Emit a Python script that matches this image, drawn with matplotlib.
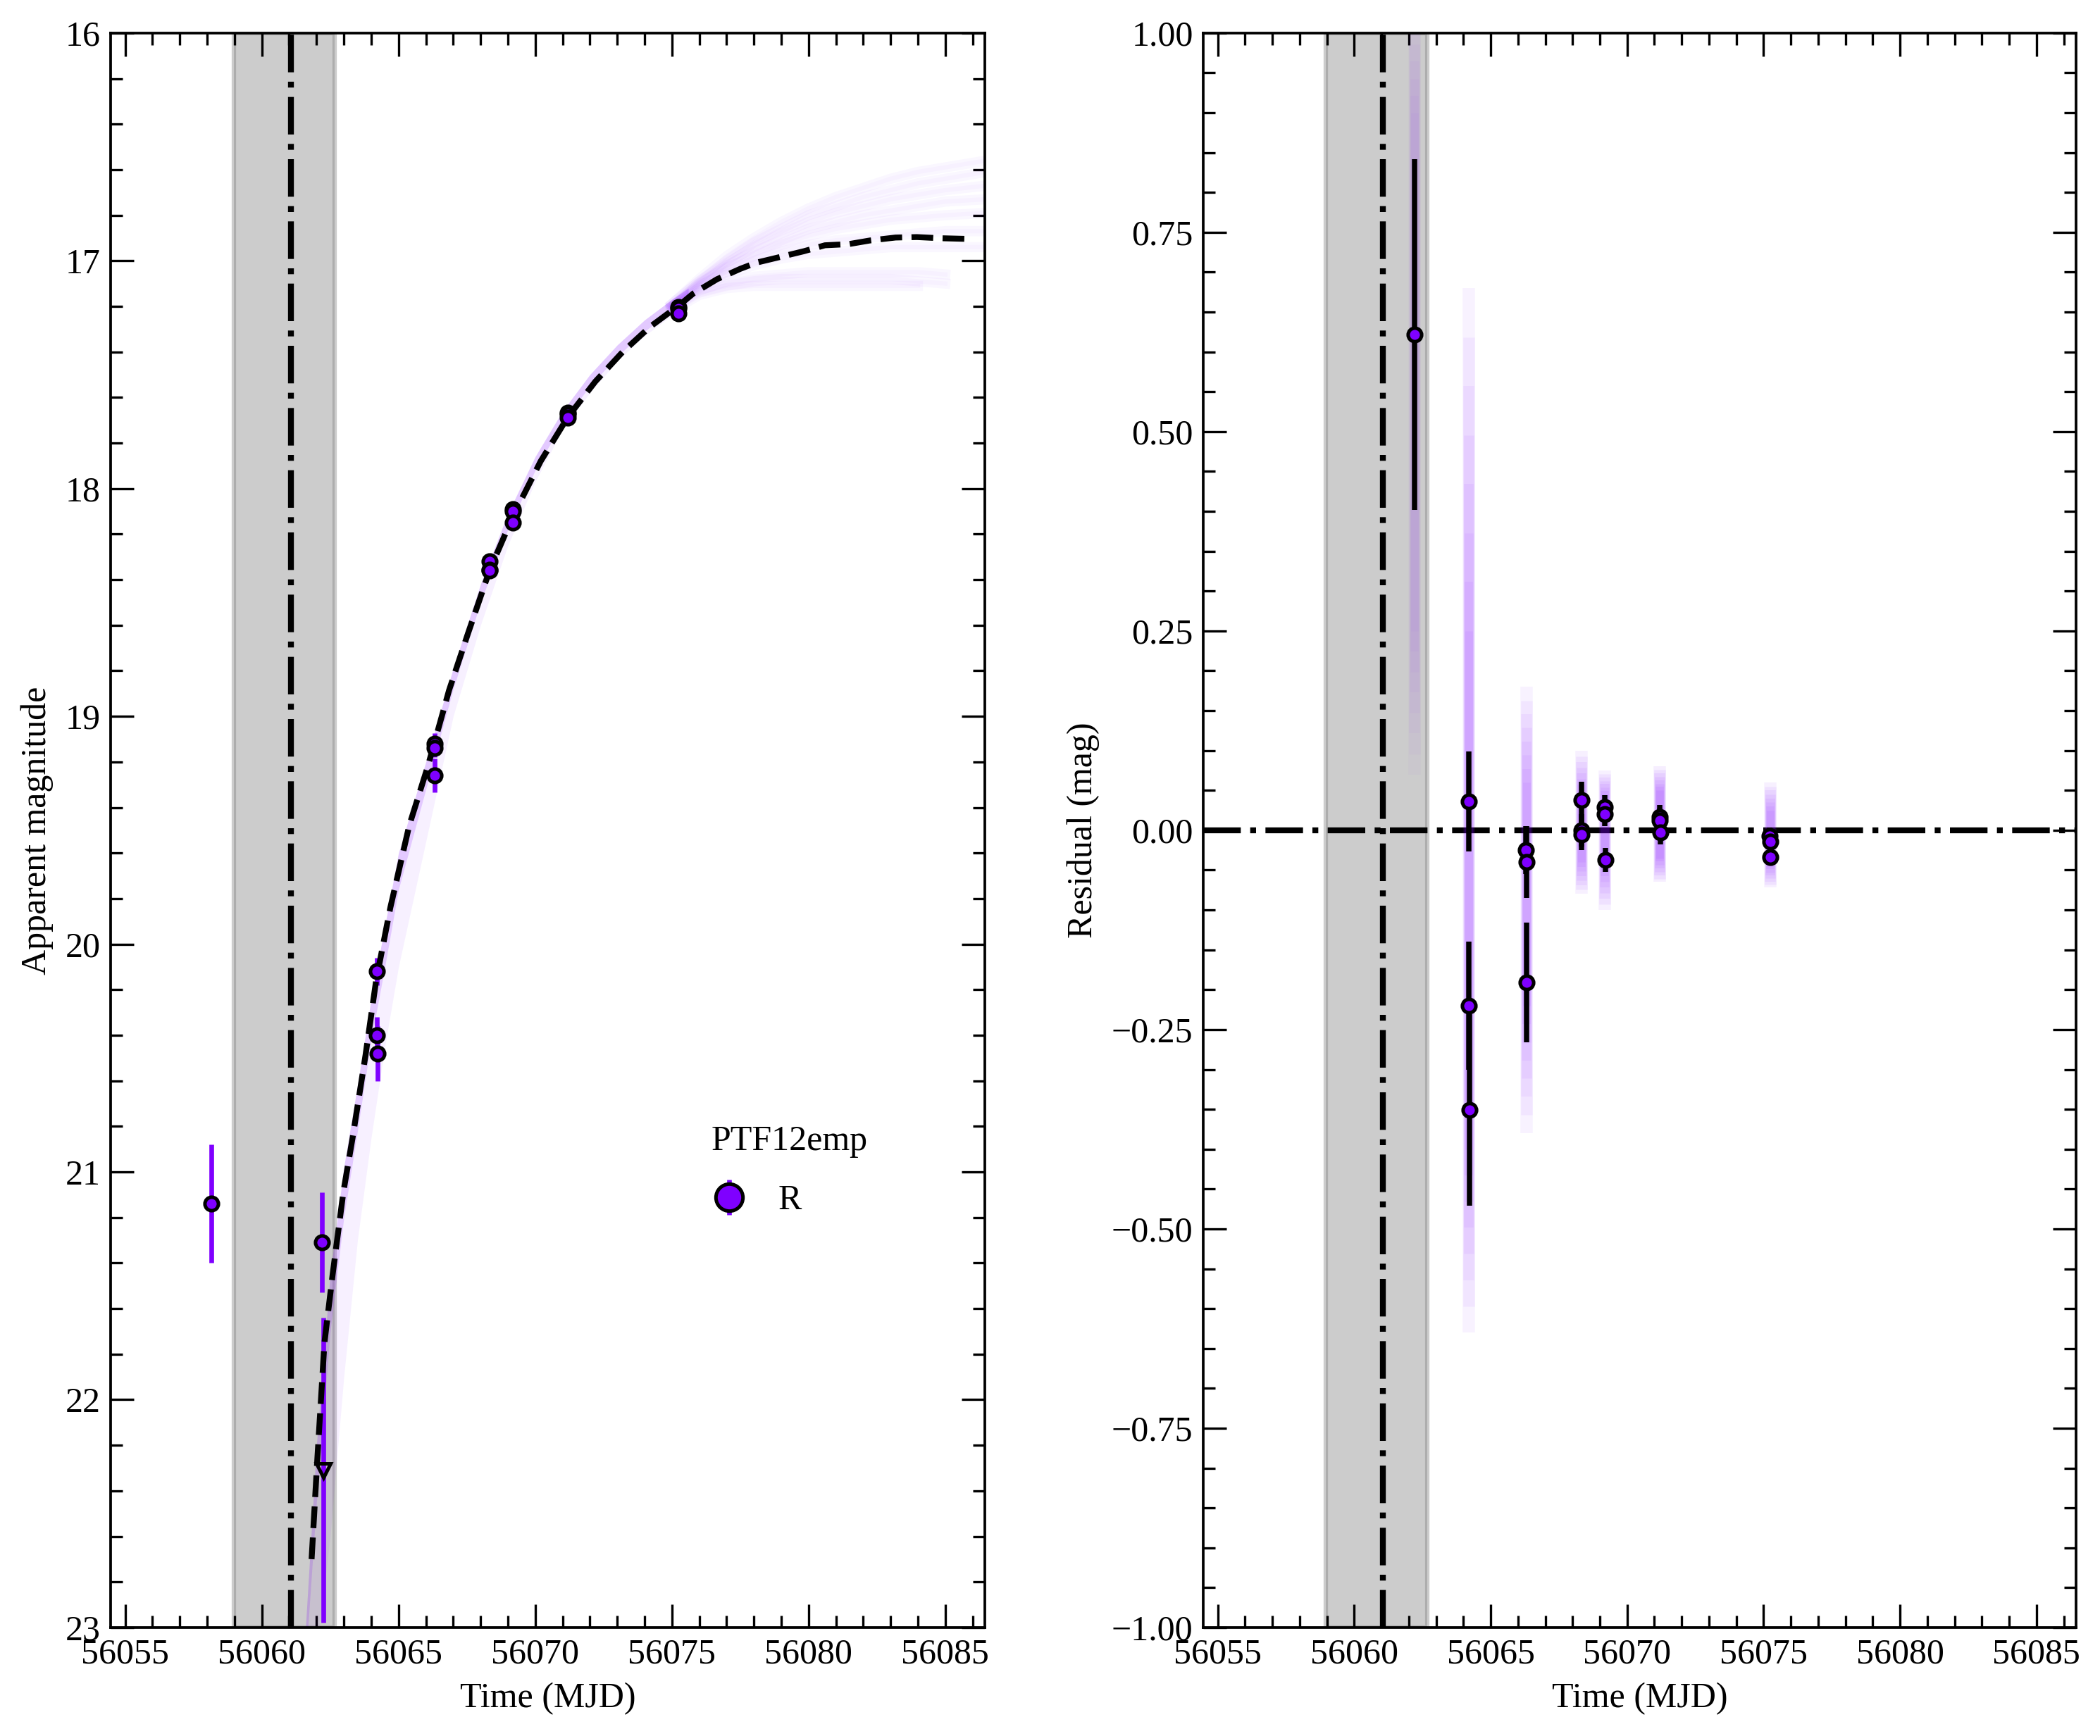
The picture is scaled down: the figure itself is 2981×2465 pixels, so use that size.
import numpy as np
import matplotlib
matplotlib.use("Agg")
import matplotlib.pyplot as plt
from matplotlib.ticker import MultipleLocator, AutoMinorLocator, FuncFormatter

plt.rcParams['font.family'] = ['Liberation Serif', 'DejaVu Serif']
plt.rcParams['font.size'] = 12

purple = '#7f00ff'

# explosion epoch and its uncertainty window
t_exp = 56061.06
t_exp_lo = 56058.97
t_exp_hi = 56062.67

# R-band photometry
t_R = [56058.16, 56062.21, 56064.21, 56064.20, 56064.23, 56066.31, 56066.31, 56066.32,
       56068.33, 56068.33, 56068.33, 56069.19, 56069.19, 56069.19,
       56071.20, 56071.20, 56071.20, 56075.24, 56075.24, 56075.24]
mag_R = [21.14, 21.31, 20.12, 20.40, 20.48, 19.12, 19.14, 19.26,
         18.32, 18.355, 18.36, 18.09, 18.10, 18.15,
         17.668, 17.673, 17.688, 17.203, 17.21, 17.23]
err_R = [0.26, 0.22, 0.06, 0.08, 0.12, 0.045, 0.04, 0.074,
         0.025, 0.02, 0.02, 0.015, 0.015, 0.02,
         0.015, 0.015, 0.015, 0.012, 0.012, 0.012]

# non-detection / limit point
t_lim = [56062.26]
mag_lim = [22.31]
err_lim = [0.67]

# best-fit model (dashed)
model_t = [56061.82, 56062.04, 56062.29, 56062.59, 56062.98, 56063.32, 56063.79, 56064.18,
           56064.70, 56065.39, 56066.07, 56066.85, 56067.53, 56068.33, 56069.19, 56070.20,
           56071.20, 56072.20, 56073.20, 56074.20, 56075.27, 56075.79, 56076.65, 56077.51,
           56078.10, 56078.97, 56079.83, 56080.60, 56081.46, 56082.24, 56083.18, 56083.96,
           56084.82, 56085.81]
model_mag = [22.70, 22.24, 21.75, 21.45, 21.09, 20.85, 20.49, 20.16,
             19.84, 19.48, 19.22, 18.885, 18.64, 18.36, 18.12, 17.88,
             17.685, 17.53, 17.40, 17.29, 17.195, 17.143, 17.081, 17.035,
             17.008, 16.983, 16.958, 16.932, 16.927, 16.911, 16.898, 16.896,
             16.901, 16.904]

# spread of posterior light curves up to the last point
band_t = [56061.6, 56062.0, 56062.5, 56063.0, 56063.5, 56064.0, 56064.5, 56065.0, 56066.0,
          56067.0, 56068.0, 56069.0, 56070.0, 56071.0, 56072.0, 56073.0, 56074.0, 56075.0, 56075.6]
band_hi = [23.00, 22.20, 21.45, 20.98, 20.62, 20.24, 19.92, 19.60, 19.20,
           18.79, 18.42, 18.11, 17.86, 17.66, 17.50, 17.37, 17.26, 17.17, 17.12]
band_core = [23.15, 22.45, 21.70, 21.20, 20.82, 20.42, 20.10, 19.76, 19.32,
             18.88, 18.50, 18.18, 17.92, 17.71, 17.55, 17.42, 17.31, 17.22, 17.17]
band_lo = [23.30, 23.10, 22.60, 21.90, 21.30, 20.85, 20.45, 20.10, 19.55,
           19.00, 18.60, 18.25, 17.97, 17.74, 17.58, 17.44, 17.33, 17.24, 17.19]

# posterior light curves after the last point
fan_t = [56075, 56076, 56077, 56078, 56079, 56080, 56081, 56082, 56083, 56084, 56085, 56086.5]
fan_1 = [17.19, 17.08, 16.98, 16.90, 16.83, 16.77, 16.72, 16.68, 16.64, 16.61, 16.59, 16.56]
fan_2 = [17.19, 17.09, 17.00, 16.92, 16.86, 16.80, 16.76, 16.72, 16.69, 16.66, 16.64, 16.61]
fan_3 = [17.19, 17.09, 17.01, 16.94, 16.88, 16.83, 16.79, 16.76, 16.73, 16.71, 16.69, 16.67]
fan_4 = [17.20, 17.10, 17.02, 16.96, 16.91, 16.86, 16.83, 16.80, 16.78, 16.76, 16.74, 16.73]
fan_5 = [17.20, 17.10, 17.03, 16.98, 16.93, 16.89, 16.86, 16.84, 16.82, 16.81, 16.80, 16.79]
fan_6 = [17.20, 17.11, 17.05, 17.00, 16.96, 16.93, 16.91, 16.90, 16.89, 16.88, 16.87, 16.87]
fan_7 = [17.20, 17.12, 17.06, 17.02, 16.99, 16.97, 16.96, 16.95, 16.94, 16.94, 16.94, 16.94]
fan_8 = [17.21, 17.13, 17.09, 17.07, 17.06, 17.05, 17.05, 17.05, 17.05, 17.05, 17.06, np.nan]
fan_9 = [17.21, 17.14, 17.11, 17.09, 17.08, 17.08, 17.08, 17.08, 17.08, 17.09, 17.10, np.nan]
fan_10 = [17.22, 17.15, 17.12, 17.11, 17.11, 17.11, 17.11, 17.11, 17.11, 17.11, np.nan, np.nan]
fans = [fan_1, fan_2, fan_3, fan_4, fan_5, fan_6, fan_7, fan_8, fan_9, fan_10]

# residuals (model - data)
res_t = [56062.22, 56064.21, 56064.20, 56064.23, 56066.30, 56066.31, 56066.32,
         56068.33, 56068.33, 56068.34, 56069.18, 56069.19, 56069.20,
         56071.19, 56071.20, 56071.21, 56075.23, 56075.24, 56075.25]
res = [0.622, 0.036, -0.220, -0.351, -0.025, -0.040, -0.191,
       0.038, 0.000, -0.005, 0.029, 0.020, -0.037,
       0.017, 0.012, -0.003, -0.007, -0.014, -0.034]
res_err = [0.22, 0.063, 0.08, 0.12, 0.03, 0.045, 0.075,
           0.023, 0.02, 0.02, 0.015, 0.015, 0.015,
           0.015, 0.015, 0.015, 0.01, 0.01, 0.01]

# spread of posterior residuals per epoch
smear_t = [56062.22, 56064.21, 56066.31, 56068.33, 56069.19, 56071.20, 56075.24]
smear_hi = [1.05, 0.68, 0.18, 0.10, 0.075, 0.08, 0.06]
smear_lo = [0.07, -0.63, -0.38, -0.08, -0.10, -0.065, -0.072]
smear_core_hi = [0.90, 0.25, 0.06, 0.05, 0.045, 0.05, 0.025]
smear_core_lo = [0.25, -0.40, -0.22, -0.04, -0.05, -0.035, -0.045]
smear_strength = [0.35, 0.8, 0.8, 0.9, 0.9, 1.0, 0.9]

xlim = (56054.47, 56086.45)

fig = plt.figure(figsize=(2981 / 300, 2465 / 300), dpi=300)
ax1 = fig.add_axes([0.0527, 0.0625, 0.4163, 0.9185])
ax2 = fig.add_axes([0.573, 0.0625, 0.4156, 0.9185])


def style_axis(ax):
    ax.xaxis.set_major_locator(MultipleLocator(5))
    ax.xaxis.set_minor_locator(AutoMinorLocator())
    ax.yaxis.set_minor_locator(AutoMinorLocator())
    ax.ticklabel_format(axis='x', useOffset=False, style='plain')
    ax.tick_params(which='both', direction='in', top=True, right=True, width=0.8)
    ax.tick_params(which='major', length=8, labelsize=12)
    ax.tick_params(which='minor', length=4)
    for s in ax.spines.values():
        s.set_linewidth(0.9)
    ax.set_xlim(*xlim)
    ax.set_xlabel('Time (MJD)', fontsize=12)


# ---- left: light curve ----
ax1.axvspan(t_exp_lo, t_exp_hi, facecolor='grey', edgecolor='grey', alpha=0.4, lw=1.5, zorder=1)
ax1.axvline(t_exp, color='k', ls='-.', lw=2, zorder=2)

ax1.fill_between(band_t, band_hi, band_lo, color=purple, alpha=0.06, lw=0, zorder=2)
ax1.fill_between(band_t, band_hi, band_core, color=purple, alpha=0.16, lw=0, zorder=2)
for f in fans:
    ax1.plot(fan_t, f, color=purple, alpha=0.03, lw=3.5, zorder=2)
    ax1.plot(fan_t, f, color=purple, alpha=0.025, lw=1.5, zorder=2)

ax1.errorbar(t_R, mag_R, yerr=err_R, fmt='none', ecolor=purple, elinewidth=1.6, zorder=3)
ax1.errorbar(t_lim, mag_lim, yerr=err_lim, fmt='none', ecolor=purple, elinewidth=1.6, zorder=3)
ax1.plot(model_t, model_mag, color='k', ls='--', lw=2, zorder=4)
ax1.plot(t_R, mag_R, 'o', ms=4.6, mfc=purple, mec='k', mew=1.2, ls='none', zorder=5)
ax1.plot(t_lim, mag_lim, 'v', ms=5, mfc='none', mec='k', mew=1.2, ls='none', zorder=5)

h = ax1.errorbar([np.nan], [np.nan], yerr=[np.nan], fmt='o', ms=4.6, mfc=purple, mec='k',
                 mew=1.2, ecolor=purple, elinewidth=1.6, label='R')
ax1.legend(handles=[h], title='PTF12emp', loc='upper left', bbox_to_anchor=(0.687, 0.315),
           frameon=False, markerscale=2, handlelength=1.0, handletextpad=0.9,
           labelspacing=0.75, borderpad=0, borderaxespad=0, alignment='left',
           fontsize=12, title_fontsize=12)

style_axis(ax1)
ax1.set_ylim(23, 16)
ax1.yaxis.set_major_locator(MultipleLocator(1))
ax1.set_ylabel('Apparent magnitude', fontsize=12)

# ---- right: residuals ----
ax2.axvspan(t_exp_lo, t_exp_hi, facecolor='grey', edgecolor='grey', alpha=0.4, lw=1.5, zorder=1)
ax2.axvline(t_exp, color='k', ls='-.', lw=2, zorder=2)
ax2.axhline(0, color='k', ls='-.', lw=2, zorder=2)

# soft posterior smear: stacked translucent strokes from outer extent to core
for t, hi, lo, chi, clo, s in zip(smear_t, smear_hi, smear_lo, smear_core_hi,
                                   smear_core_lo, smear_strength):
    for w in np.linspace(0, 1, 8):
        top = hi + (chi - hi) * w
        bot = lo + (clo - lo) * w
        ax2.vlines(t, bot, top, color=purple, alpha=0.065 * s, lw=4.2 - 1.6 * w, zorder=2)

ax2.errorbar(res_t, res, yerr=res_err, fmt='none', ecolor='k', elinewidth=1.8, zorder=3)
ax2.plot(res_t, res, 'o', ms=4.6, mfc=purple, mec='k', mew=1.2, ls='none', zorder=5)

style_axis(ax2)
ax2.set_ylim(-1, 1)
ax2.yaxis.set_major_locator(MultipleLocator(0.25))
ax2.yaxis.set_major_formatter(FuncFormatter(lambda v, p: f"{v:.2f}".replace('-', '\u2212')))
ax2.set_ylabel('Residual (mag)', fontsize=12)

fig.savefig('out.png', dpi=300)
